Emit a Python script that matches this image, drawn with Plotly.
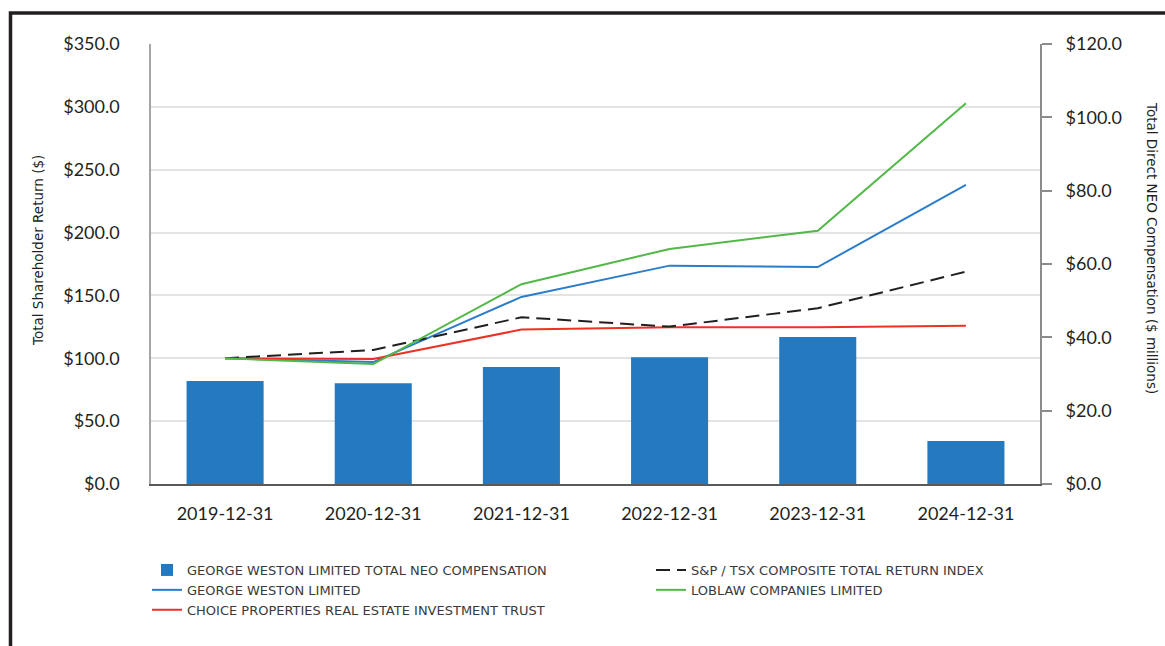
import plotly.graph_objects as go

categories = ["2019-12-31", "2020-12-31", "2021-12-31", "2022-12-31", "2023-12-31", "2024-12-31"]
neo_comp = [28.1, 27.5, 31.9, 34.6, 40.1, 11.7]
gwl = [100.0, 97.0, 148.8, 173.7, 172.6, 237.9]
sptsx = [100.0, 106.6, 132.6, 125.2, 139.8, 168.9]
loblaw = [100.0, 95.4, 158.9, 187.0, 201.5, 302.9]
choice = [100.0, 99.4, 122.8, 124.6, 124.6, 125.9]

names = {
    "neo": "GEORGE WESTON LIMITED TOTAL NEO COMPENSATION",
    "gwl": "GEORGE WESTON LIMITED",
    "choice": "CHOICE PROPERTIES REAL ESTATE INVESTMENT TRUST",
    "sptsx": "S&P / TSX COMPOSITE TOTAL RETURN INDEX",
    "loblaw": "LOBLAW COMPANIES LIMITED",
}

TICK_FONT = dict(family="Lato", size=18, color="#231f20")
LEG_FONT = dict(family="DejaVu Sans", size=13, color="#3a3a3a")
TITLE_FONT = dict(family="DejaVu Sans", size=13.5, color="#231f20")

fig = go.Figure()
fig.add_trace(go.Bar(x=categories, y=neo_comp, name=names["neo"], width=0.52,
                     marker=dict(color="#2479BF", line=dict(width=0)),
                     yaxis="y", legend="legend"))
fig.add_trace(go.Scatter(x=categories, y=gwl, name=names["gwl"], mode="lines",
                         line=dict(color="#2B7DC9", width=2), yaxis="y2", legend="legend"))
fig.add_trace(go.Scatter(x=categories, y=choice, name=names["choice"], mode="lines",
                         line=dict(color="#EE3124", width=2), yaxis="y2", legend="legend"))
fig.add_trace(go.Scatter(x=categories, y=sptsx, name=names["sptsx"], mode="lines",
                         line=dict(color="#231f20", width=2, dash="14px,7px"), yaxis="y2", legend="legend2"))
fig.add_trace(go.Scatter(x=categories, y=loblaw, name=names["loblaw"], mode="lines",
                         line=dict(color="#52B848", width=2), yaxis="y2", legend="legend2"))

W, H = 1165, 646
L, R, T, B = 151, 1040, 44, 484
pw, ph = R - L, B - T

def px(x):
    return (x - L) / pw

def py(y):
    return (B - y) / ph

fig.update_layout(
    width=W, height=H,
    margin=dict(l=L, r=W - R, t=T, b=H - B),
    paper_bgcolor="white", plot_bgcolor="white",
    xaxis=dict(type="category", showline=True, linecolor="#595959", linewidth=2,
               ticks="", showgrid=False, tickfont=TICK_FONT, ticklabelstandoff=12,
               fixedrange=True),
    yaxis=dict(side="right", range=[0, 120], dtick=20, tickprefix="$", tickformat=".1f",
               ticks="outside", ticklen=10, tickwidth=2, tickcolor="#8c8c8c",
               showline=True, linecolor="#8c8c8c", linewidth=2, showgrid=False,
               zeroline=False, tickfont=TICK_FONT, ticklabelstandoff=10),
    yaxis2=dict(side="left", overlaying="y", range=[0, 350], dtick=50, tickprefix="$",
                tickformat=".1f", ticks="", showline=True, linecolor="#a6a6a6",
                linewidth=1.5, showgrid=True, gridcolor="#e3e3e3", gridwidth=1.5,
                zeroline=False, tickfont=TICK_FONT, ticklabelstandoff=26),
    legend=dict(x=px(147), y=py(555), xanchor="left", yanchor="top",
                orientation="v", bgcolor="rgba(0,0,0,0)", font=LEG_FONT,
                traceorder="normal"),
    legend2=dict(x=px(651), y=py(555), xanchor="left", yanchor="top",
                 orientation="v", bgcolor="rgba(0,0,0,0)", font=LEG_FONT,
                 traceorder="normal"),
    showlegend=True,
    annotations=[
        dict(text="Total Shareholder Return ($)", xref="paper", yref="paper",
             x=px(38), y=py(251), xanchor="center", yanchor="middle",
             textangle=-90, showarrow=False, font=TITLE_FONT),
        dict(text="Total Direct NEO Compensation ($ millions)", xref="paper", yref="paper",
             x=px(1152), y=py(248), xanchor="center", yanchor="middle",
             textangle=90, showarrow=False, font=TITLE_FONT),
    ],
    shapes=[
        dict(type="rect", xref="paper", yref="paper", x0=px(10.5), y0=py(700),
             x1=px(1200), y1=py(13), line=dict(color="#231f20", width=3.5),
             fillcolor="rgba(0,0,0,0)", layer="above"),
    ],
)

fig.write_html("out.html", config={"displayModeBar": False},
               post_script="document.body.style.margin='0px';document.body.style.overflow='hidden';")
